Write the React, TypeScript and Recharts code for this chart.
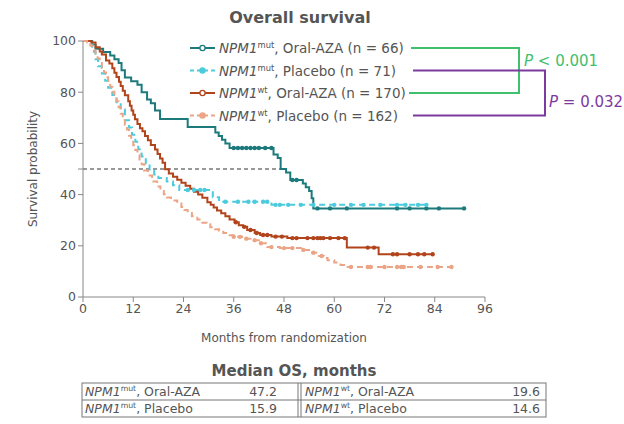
import { LineChart, Line, XAxis, YAxis, ReferenceLine } from 'recharts';

const monthTicks = [0, 12, 24, 36, 48, 60, 72, 84, 96];
const survivalTicks = [0, 20, 40, 50, 60, 80, 100];

// KM steps: [month, survival %]
const mutAzaSteps: [number, number][] = [
  [0, 100], [2.2, 98.5], [3, 97], [4.8, 95.7], [6.5, 94.3], [7.5, 92.9], [8.5, 91.4], [9.2, 88.6],
  [10, 85.7], [11.5, 84.3], [13, 82.9], [14, 80], [15.3, 77.1], [16.2, 75.7], [17.2, 72.9], [18.4, 69.5],
  [25, 66.4], [31.6, 64.3], [32.4, 62.9], [33.2, 61.4], [34, 60], [35, 58.2], [45.5, 55.7], [46.5, 54.3],
  [47.2, 50], [48.5, 48.6], [49.5, 45.7], [52.5, 44.3], [53.2, 42.9], [54, 41.4], [54.6, 38.6], [55, 34.6],
  [91, 34.6],
];
const mutAzaCensor = [36, 37, 38, 39, 40, 41, 42, 43.5, 45, 50, 51, 56, 59, 63, 75, 78, 82, 85, 91];

const mutPboSteps: [number, number][] = [
  [0, 100], [1.5, 98.6], [2.2, 97.2], [2.6, 95.8], [3, 92.9], [3.6, 90.1], [4.5, 87.3], [5.3, 84.5],
  [6, 81.7], [7, 78.9], [8, 76.1], [9, 73.2], [10, 69], [11, 66.2], [11.7, 63.4], [12.5, 60.6],
  [13.2, 57.7], [14, 54.9], [15, 52.1], [15.9, 49.3], [17, 47.9], [18, 46.5], [20, 45.1], [21.5, 43.7],
  [23, 41.8], [31, 39], [32.5, 37.2], [45, 36], [82, 36],
];
const mutPboCensor = [25, 26.5, 28, 29, 34, 37, 39.5, 41, 43, 44, 46, 47, 49, 52, 55, 60, 64, 67, 71, 75, 77, 80, 82];

const wtAzaSteps: [number, number][] = [
  [0, 100], [2, 99.4], [3, 97.6], [4, 95.9], [4.5, 94.7], [5.5, 92.4], [6.3, 91.2], [7, 89.4],
  [7.5, 87.6], [8, 85.9], [8.6, 84.1], [9, 82.4], [9.5, 80.6], [10, 78.8], [10.8, 76.5], [11.2, 74.7],
  [11.6, 72.9], [12, 71.2], [12.4, 69.4], [13, 67.6], [13.6, 65.9], [14.2, 64.7], [14.8, 62.9],
  [15.5, 61.2], [16.2, 59.4], [17.2, 57.6], [17.8, 55.9], [18.4, 54.1], [19, 52.4], [19.6, 49.9],
  [20.5, 48.2], [21.5, 47], [22.5, 45.8], [23.5, 44.6], [24.5, 43.5], [25.6, 42.3], [26.5, 41.1],
  [27.5, 40], [28.5, 38.8], [29.7, 37], [30.5, 36], [31.2, 35], [32, 33.8], [33, 32.7], [34, 31.5],
  [35, 30.3], [36.2, 29.2], [37.2, 28], [38.2, 27.4], [39.2, 26.2], [41, 25], [42.3, 24.2], [45, 23.6],
  [48.8, 23], [63, 19.3], [70.6, 16.7], [83.5, 16.7],
];
const wtAzaCensor = [36.5, 38.5, 40, 41.5, 43, 44, 46, 47.5, 50, 51, 53.6, 55, 56, 56.7, 57.4, 59, 61, 62.5, 68, 69.5, 74, 75, 78, 80, 81.5, 83.5];

const wtPboSteps: [number, number][] = [
  [0, 100], [1, 99.4], [1.8, 98.1], [2.5, 96.3], [3, 95], [3.5, 93.2], [4, 91.4], [4.5, 89.5],
  [5, 87.7], [5.5, 85.8], [6, 84], [6.5, 82.1], [7, 80.2], [7.5, 78.4], [8, 76.5], [8.5, 74.1],
  [9, 71.6], [9.5, 69.8], [10, 67.3], [10.5, 65.4], [11, 63], [11.5, 61.1], [12, 59.3], [12.5, 57.4],
  [13, 55.6], [13.5, 53.7], [14, 51.9], [14.6, 49.4], [15.5, 47.5], [16.5, 45.1], [17.7, 43.2],
  [18.5, 41.4], [19.3, 40.1], [20, 38.9], [21, 37.7], [22.5, 36.5], [23.5, 35.2], [24.2, 34],
  [25, 32.8], [26, 31.5], [27.3, 30.3], [28.5, 29], [29.5, 28.4], [30.4, 27.2], [31.5, 26.5],
  [32.5, 25.9], [33.5, 25], [34.4, 24.1], [36, 23.5], [38, 22.8], [40, 22.2], [42, 21], [44, 19.5],
  [47, 19.1], [52.6, 18.4], [54, 17.3], [56, 16], [57.5, 15.2], [58.4, 14.4], [60, 13.5], [61.5, 12.5],
  [63.2, 11.7], [88, 11.7],
];
const wtPboCensor = [36, 37.5, 39, 41, 42.5, 45, 48, 50, 52.6, 55, 57, 64, 68, 68.7, 72, 75, 76, 76.6, 80.6, 84.7, 88];

const medianRows = [
  { sup: 'mut', arm: 'Oral-AZA', median: '47.2' },
  { sup: 'mut', arm: 'Placebo', median: '15.9' },
];
const medianRowsWt = [
  { sup: 'wt', arm: 'Oral-AZA', median: '19.6' },
  { sup: 'wt', arm: 'Placebo', median: '14.6' },
];

const FONT = '"DejaVu Sans", sans-serif';
const TEXT = '#555';

type Pt = { month: number; surv: number; censored: boolean };

function buildSeries(steps: [number, number][], censor: number[]): Pt[] {
  const pts: Pt[] = steps.map(([m, s]) => ({ month: m, surv: s, censored: false }));
  censor.forEach(c => {
    let s = steps[0][1];
    steps.forEach(([m, v]) => { if (m <= c) s = v; });
    pts.push({ month: c, surv: s, censored: true });
  });
  return pts.sort((a, b) => a.month - b.month || (a.censored ? 1 : -1));
}

const series = [
  { key: 'mutAza', data: buildSeries(mutAzaSteps, mutAzaCensor), color: '#1c7a7d', dash: undefined },
  { key: 'mutPbo', data: buildSeries(mutPboSteps, mutPboCensor), color: '#4ccbdd', dash: '6 4' },
  { key: 'wtAza', data: buildSeries(wtAzaSteps, wtAzaCensor), color: '#b2441b', dash: undefined },
  { key: 'wtPbo', data: buildSeries(wtPboSteps, wtPboCensor), color: '#eba586', dash: '6 4' },
];

const legendRows = [
  { sup: 'mut', arm: 'Oral-AZA (n = 66)', color: '#1c7a7d', dash: undefined, hollow: true },
  { sup: 'mut', arm: 'Placebo (n = 71)', color: '#4ccbdd', dash: '4 3', hollow: false },
  { sup: 'wt', arm: 'Oral-AZA (n = 170)', color: '#b2441b', dash: undefined, hollow: true },
  { sup: 'wt', arm: 'Placebo (n = 162)', color: '#eba586', dash: '4 3', hollow: false },
];

function censorDot(color: string) {
  return (props: any) => {
    const { cx, cy, payload, index } = props;
    if (!payload || !payload.censored) return <g key={`d-${index}`} />;
    return <circle key={`d-${index}`} cx={cx} cy={cy} r={2.2} fill={color} stroke="none" />;
  };
}

function Gene({ sup }: { sup: string }) {
  return (
    <>
      <tspan fontStyle="italic">NPM1</tspan>
      <tspan fontSize="0.62em" dy={-5}>{sup}</tspan>
      <tspan dy={5}>, </tspan>
    </>
  );
}

export default function App() {
  const legendY = [48, 70.5, 93, 115.5];
  const green = '#3fc06c';
  const purple = '#7d3a9e';
  return (
    <div style={{ position: 'absolute', left: 0, top: 0, width: 624, height: 424, background: '#fff', fontFamily: FONT }}>
      <LineChart width={624} height={360} margin={{ top: 41, right: 139, left: 23, bottom: 15 }}>
        <XAxis
          type="number" dataKey="month" domain={[0, 96]} ticks={monthTicks} interval={0}
          stroke="#888" tick={{ fill: TEXT, fontSize: 12.5, fontFamily: FONT }} tickSize={5} height={48}
          label={{ value: 'Months from randomization', position: 'insideBottom', offset: 3, fill: TEXT, fontSize: 12, fontFamily: FONT }}
          allowDuplicatedCategory={false}
        />
        <YAxis
          type="number" domain={[0, 100]} ticks={survivalTicks} interval={0} width={60}
          stroke="#888" tick={{ fill: TEXT, fontSize: 12.5, fontFamily: FONT }} tickSize={5}
          tickFormatter={(v: number) => (v === 50 ? '' : String(v))}
          label={{ value: 'Survival probability', angle: -90, position: 'insideLeft', offset: 10, fill: TEXT, fontSize: 12, fontFamily: FONT, style: { textAnchor: 'middle' } }}
        />
        <ReferenceLine segment={[{ x: 0, y: 50 }, { x: 47.2, y: 50 }]} stroke="#333" strokeDasharray="4 3" strokeWidth={1} />
        {series.map(s => (
          <Line
            key={s.key} data={s.data} dataKey="surv" type="stepAfter" stroke={s.color} strokeWidth={2}
            strokeDasharray={s.dash} dot={censorDot(s.color)} activeDot={false} isAnimationActive={false}
          />
        ))}
      </LineChart>
      <svg width={624} height={424} style={{ position: 'absolute', left: 0, top: 0, pointerEvents: 'none' }} fontFamily={FONT}>
        <text x={300} y={23} textAnchor="middle" fontSize={16} fontWeight="bold" fill={TEXT}>Overall survival</text>
        {legendRows.map((r, i) => (
          <g key={r.arm + i}>
            <line x1={190} x2={215} y1={legendY[i]} y2={legendY[i]} stroke={r.color} strokeWidth={2} strokeDasharray={r.dash} />
            <circle cx={202.5} cy={legendY[i]} r={2.6} fill={r.hollow ? '#fff' : r.color} stroke={r.color} strokeWidth={1.3} />
            <text x={219} y={legendY[i] + 5} fontSize={13.5} fill={TEXT}>
              <Gene sup={r.sup} />
              <tspan>{r.arm}</tspan>
            </text>
          </g>
        ))}
        <polyline points={`411,${legendY[0]} 519,${legendY[0]} 519,${legendY[2]} 409,${legendY[2]}`} fill="none" stroke={green} strokeWidth={2} />
        <polyline points={`413,${legendY[1]} 545,${legendY[1]} 545,${legendY[3]} 413,${legendY[3]}`} fill="none" stroke={purple} strokeWidth={2} />
        <text x={524} y={66} fontSize={15} fill={green}><tspan fontStyle="italic">P</tspan> &lt; 0.001</text>
        <text x={549} y={107} fontSize={15} fill={purple}><tspan fontStyle="italic">P</tspan> = 0.032</text>

        <text x={294} y={376} textAnchor="middle" fontSize={15} fontWeight="bold" fill={TEXT}>Median OS, months</text>
        <rect x={82} y={383} width={464} height={34} fill="none" stroke="#777" strokeWidth={1} />
        <line x1={82} x2={546} y1={400} y2={400} stroke="#777" strokeWidth={1} />
        <line x1={298} x2={298} y1={383} y2={417} stroke="#777" strokeWidth={1} />
        <line x1={301} x2={301} y1={383} y2={417} stroke="#777" strokeWidth={1} />
        {medianRows.map((r, i) => (
          <g key={'l' + i}>
            <text x={85} y={396 + i * 17} fontSize={12.5} fill={TEXT}><Gene sup={r.sup} /><tspan>{r.arm}</tspan></text>
            <text x={277} y={396 + i * 17} fontSize={12.5} fill={TEXT} textAnchor="end">{r.median}</text>
          </g>
        ))}
        {medianRowsWt.map((r, i) => (
          <g key={'r' + i}>
            <text x={305} y={396 + i * 17} fontSize={12.5} fill={TEXT}><Gene sup={r.sup} /><tspan>{r.arm}</tspan></text>
            <text x={540} y={396 + i * 17} fontSize={12.5} fill={TEXT} textAnchor="end">{r.median}</text>
          </g>
        ))}
      </svg>
    </div>
  );
}
